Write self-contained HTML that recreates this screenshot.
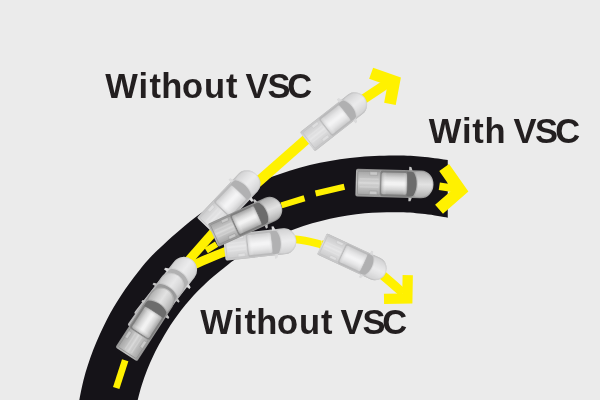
<!DOCTYPE html>
<html lang="en">
<head>
<meta charset="utf-8">
<title>VSC illustration</title>
<style>
html,body{margin:0;padding:0;background:#ebebeb;}
body{width:600px;height:400px;overflow:hidden;}
svg{display:block;}
</style>
</head>
<body>
<svg width="600" height="400" viewBox="0 0 600 400">
<defs>
<filter id="soft" color-interpolation-filters="sRGB" x="-5%" y="-20%" width="110%" height="140%"><feGaussianBlur stdDeviation="0.35"/></filter>
<filter id="softT" color-interpolation-filters="sRGB" filterUnits="userSpaceOnUse" x="-50" y="-50" width="700" height="500"><feGaussianBlur stdDeviation="0.45"/></filter>
<linearGradient id="gBody" x1="0" y1="0" x2="0" y2="1">
  <stop offset="0" stop-color="#8e8e8e"/><stop offset="0.1" stop-color="#ababab"/><stop offset="0.5" stop-color="#c4c4c4"/><stop offset="0.9" stop-color="#ababab"/><stop offset="1" stop-color="#8e8e8e"/>
</linearGradient>
<linearGradient id="gBed" x1="0" y1="0" x2="0" y2="1">
  <stop offset="0" stop-color="#a6a6a6"/><stop offset="0.5" stop-color="#d4d4d4"/><stop offset="1" stop-color="#a6a6a6"/>
</linearGradient>
<linearGradient id="gRoof" x1="0" y1="0" x2="0" y2="1">
  <stop offset="0" stop-color="#a4a4a4"/><stop offset="0.22" stop-color="#d4d4d4"/><stop offset="0.45" stop-color="#f2f2f2"/><stop offset="0.55" stop-color="#f2f2f2"/><stop offset="0.78" stop-color="#d4d4d4"/><stop offset="1" stop-color="#a4a4a4"/>
</linearGradient>
<linearGradient id="gRoofX" x1="0" y1="0" x2="1" y2="0">
  <stop offset="0" stop-color="#9a9a9a" stop-opacity="0.55"/><stop offset="0.2" stop-color="#ffffff" stop-opacity="0"/><stop offset="0.85" stop-color="#ffffff" stop-opacity="0"/><stop offset="1" stop-color="#9a9a9a" stop-opacity="0.4"/>
</linearGradient>
<linearGradient id="gHood" x1="0" y1="0" x2="0" y2="1">
  <stop offset="0" stop-color="#b0b0b0"/><stop offset="0.3" stop-color="#d2d2d2"/><stop offset="0.5" stop-color="#e2e2e2"/><stop offset="0.7" stop-color="#d2d2d2"/><stop offset="1" stop-color="#b0b0b0"/>
</linearGradient>

<g id="truck">
  <path d="M14.2,-13 L14.2,-17.3 L16.3,-17.1 L17.8,-13 Z M14.2,13 L14.2,17.3 L16.3,17.1 L17.8,13 Z" fill="#c4c4c4"/>
  <path d="M-37.1,-13.9 H26.5 A12.4,13.9 0 0 1 26.5,13.9 H-37.1 Q-38.9,13.9 -38.9,12.1 V-12.1 Q-38.9,-13.9 -37.1,-13.9 Z" fill="url(#gBody)"/>
  <rect x="-37" y="-11.6" width="22.6" height="23.2" rx="1" fill="url(#gBed)" stroke="#8c8c8c" stroke-width="0.7"/>
  <path d="M-25,-11.3 h7.6 v3.4 h-7.6 Z M-25,11.3 h7.6 v-3.4 h-7.6 Z" fill="#c9c9c9" stroke="#9a9a9a" stroke-width="0.5"/>
  <path d="M-35,-4 H-16 M-35,0 H-16 M-35,4 H-16" stroke="#e4e4e4" stroke-width="1.6" opacity="0.35"/>
  <rect x="-14.2" y="-12.9" width="27.4" height="25.8" rx="1.6" fill="#7e7e7e"/>
  <rect x="-13.2" y="-10.9" width="25.4" height="21.8" rx="1.8" fill="url(#gRoof)"/>
  <rect x="-13.2" y="-10.9" width="25.4" height="21.8" rx="1.8" fill="url(#gRoofX)"/>
  <path d="M12.2,-12.4 C15,-12.9 17.2,-12.6 19,-11.6 C23.2,-5 23.2,5 19,11.6 C17.2,12.6 15,12.9 12.2,12.4 C13.2,5 13.2,-5 12.2,-12.4 Z" fill="#6c6c6c"/>
  <path d="M20.2,-12.2 C24,-13.2 28,-13 30.6,-11.6 C35.6,-8.8 37.8,-4.6 37.9,0 C37.8,4.6 35.6,8.8 30.6,11.6 C28,13 24,13.2 20.2,12.2 C24.2,5 24.2,-5 20.2,-12.2 Z" fill="url(#gHood)"/>
</g>
<g id="truckL">
  <use href="#truck"/>
  <path d="M14.2,-13 L14.2,-17.3 L16.3,-17.1 L17.8,-13 Z M14.2,13 L14.2,17.3 L16.3,17.1 L17.8,13 Z" fill="#f5f5f7" opacity="0.5"/>
  <path d="M-37.1,-13.9 H26.5 A12.4,13.9 0 0 1 26.5,13.9 H-37.1 Q-38.9,13.9 -38.9,12.1 V-12.1 Q-38.9,-13.9 -37.1,-13.9 Z" fill="#f5f5f7" opacity="0.5"/>
</g>
<g id="truckF">
  <use href="#truck"/>
  <path d="M14.2,-13 L14.2,-17.3 L16.3,-17.1 L17.8,-13 Z M14.2,13 L14.2,17.3 L16.3,17.1 L17.8,13 Z" fill="#f3f3f5" opacity="0.5"/>
  <path d="M-37.1,-13.9 H26.5 A12.4,13.9 0 0 1 26.5,13.9 H-37.1 Q-38.9,13.9 -38.9,12.1 V-12.1 Q-38.9,-13.9 -37.1,-13.9 Z" fill="#f3f3f5" opacity="0.5"/>
</g>
<g id="truckM">
  <use href="#truck"/>
  <path d="M-37.1,-13.9 H26.5 A12.4,13.9 0 0 1 26.5,13.9 H-37.1 Q-38.9,13.9 -38.9,12.1 V-12.1 Q-38.9,-13.9 -37.1,-13.9 Z" fill="#f0f0f3" opacity="0.35"/>
</g>
</defs>
<rect width="600" height="400" fill="#ebebeb"/>
<g filter="url(#softT)">
<path d="M77.10,412.00 C78.17,406.67 80.85,390.33 83.53,380.00 C86.21,369.67 89.31,360.00 93.18,350.00 C97.04,340.00 102.00,329.17 106.70,320.00 C111.39,310.83 116.13,303.00 121.35,295.00 C126.57,287.00 132.33,279.17 138.03,272.00 C143.73,264.83 146.89,260.44 155.55,252.00 C164.21,243.56 180.09,229.31 190.00,221.38 C199.91,213.44 205.83,209.91 215.00,204.40 C224.17,198.89 234.17,193.37 245.00,188.31 C255.83,183.26 267.50,178.28 280.00,174.04 C292.50,169.80 306.67,165.72 320.00,162.87 C333.33,160.02 346.67,158.14 360.00,156.93 C373.33,155.72 389.17,155.57 400.00,155.60 C410.83,155.63 417.04,156.34 425.00,157.09 C432.96,157.83 443.96,159.58 447.75,160.08 L447.75,217.70 C443.96,217.10 432.96,214.99 425.00,214.08 C417.04,213.17 410.00,212.36 400.00,212.24 C390.00,212.11 376.67,212.24 365.00,213.33 C353.33,214.42 341.67,216.18 330.00,218.78 C318.33,221.38 305.83,225.07 295.00,228.93 C284.17,232.78 274.17,237.33 265.00,241.90 C255.83,246.47 246.23,252.50 240.00,256.35 C233.77,260.20 233.09,260.72 227.61,265.00 C222.13,269.28 213.46,276.17 207.13,282.00 C200.80,287.83 195.16,293.67 189.64,300.00 C184.12,306.33 178.69,313.33 174.03,320.00 C169.36,326.67 165.04,334.17 161.65,340.00 C158.25,345.83 156.10,350.00 153.67,355.00 C151.25,360.00 149.07,365.00 147.09,370.00 C145.11,375.00 143.36,380.00 141.80,385.00 C140.24,390.00 138.80,395.50 137.72,400.00 C136.64,404.50 135.70,410.00 135.30,412.00 Z" fill="#151318"/>
<path d="M186,263.4 L214.5,231" stroke="#fff100" stroke-width="9.0" fill="none"/>
<path d="M252.6,186.6 L306,139.6" stroke="#fff100" stroke-width="10.2" fill="none"/>
<path d="M360,101.6 L389,82.2" stroke="#fff100" stroke-width="9.6" fill="none"/>
<path d="M180.00,271.00 C182.70,269.79 188.80,266.93 196.20,263.75 C203.60,260.57 213.77,255.69 224.40,251.90 C235.03,248.11 254.07,242.82 260.00,241.00" stroke="#fff100" stroke-width="9.0" fill="none" />
<path d="M260.00,241.00 C266.00,240.73 285.83,238.83 296.00,239.40 C306.17,239.97 316.83,243.57 321.00,244.40" stroke="#fff100" stroke-width="7.6" fill="none" />
<path d="M321.00,244.40 C327.50,246.67 349.54,252.69 360.00,258.00 C370.46,263.31 376.58,270.42 383.75,276.25 C390.92,282.08 399.79,290.21 403.00,293.00" stroke="#fff100" stroke-width="9.0" fill="none" />
<path d="M116.2,388 L125.2,360.2" stroke="#fff100" stroke-width="6.7" fill="none"/>
<path d="M206.2,250.6 L216.6,244.2" stroke="#fff100" stroke-width="6.2" fill="none"/>
<path d="M281.4,205.4 L304.5,198.3" stroke="#fff100" stroke-width="6.2" fill="none"/>
<path d="M315.6,193.6 L344.4,186.7" stroke="#fff100" stroke-width="6.2" fill="none"/>
<path d="M439.3,186.3 L456,188.8" stroke="#fff100" stroke-width="7.6" fill="none"/>
<polygon points="400.90,77.60 395.74,104.92 384.14,102.73 387.43,85.31 369.15,78.77 373.13,67.66" fill="#fff100"/>
<polygon points="468.40,191.60 442.97,213.71 435.09,204.65 452.37,189.63 439.24,170.88 449.07,163.99" fill="#fff100"/>
<polygon points="412.40,303.60 384.10,304.09 383.92,293.80 402.28,293.48 402.60,275.12 412.89,275.30" fill="#fff100"/>
<use href="#truckL" transform="translate(168.02,290.34) rotate(-52) scale(1.0,0.93)"/>
<use href="#truckM" transform="translate(158.15,303.88) rotate(-54.5) scale(0.9,0.93)"/>
<use href="#truck" transform="translate(147.17,322.10) rotate(-57) scale(0.99,0.93)"/>
<use href="#truckL" transform="translate(231.22,200.37) rotate(-46.4) scale(0.93,0.93)"/>
<use href="#truckL" transform="translate(260.26,243.87) rotate(-6.3) scale(0.93,0.93)"/>
<use href="#truck" transform="translate(247.05,219.93) rotate(-24.5) scale(0.96,0.915)"/>
<use href="#truckF" transform="translate(335.91,119.42) rotate(-38) scale(0.93,0.87)"/>
<use href="#truckF" transform="translate(353.73,258.60) rotate(25) scale(0.9,0.84)"/>
<use href="#truck" transform="translate(394.60,183.70) rotate(1.5) scale(1.0,1.0)"/>
</g>
<g font-family="'Liberation Sans', Arial, sans-serif" font-weight="700" font-size="34.5" fill="#231f20" filter="url(#soft)">
<text x="105.13 138.62 149.41 161.16 181.88 203.9 226.06 238.48 245.59 267.62 287.26" y="98.4">Without VSC</text>
<text x="428.64 461.92 472.31 484.56 496.98 513.54 535.12 555.26" y="142.6">With VSC</text>
<text x="200.13 233.62 244.41 256.16 276.88 298.9 321.06 333.48 340.59 362.62 382.26" y="333.8">Without VSC</text>
</g>
</svg>
</body>
</html>
